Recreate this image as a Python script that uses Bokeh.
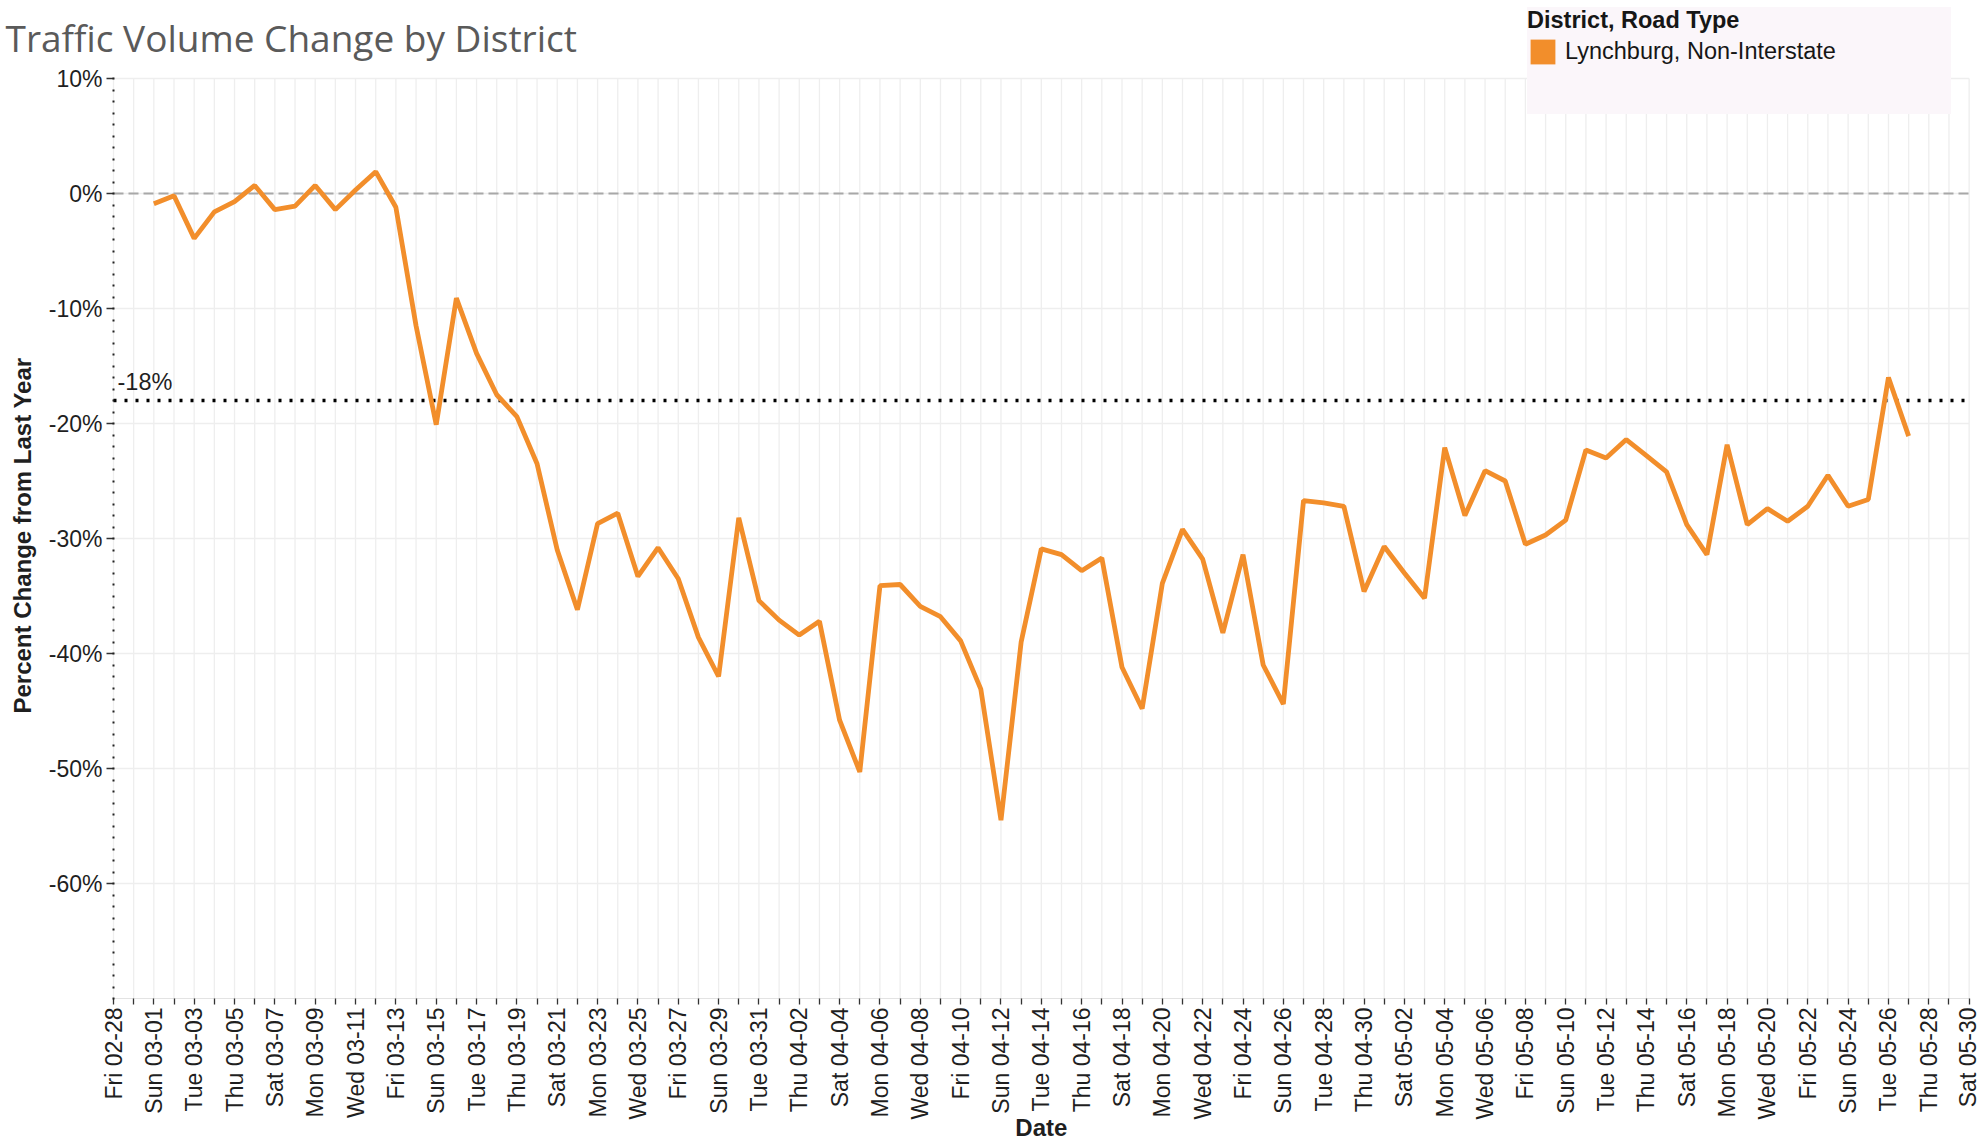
import math
import pandas as pd
from bokeh.plotting import figure
from bokeh.models import (FixedTicker, PrintfTickFormatter, Label, Legend,
                          LegendItem, Range1d)
from bokeh.embed import file_html
from bokeh.resources import INLINE

# ---------------- data ----------------
chart_title = "Traffic Volume Change by District"
y_title = "Percent Change from Last Year"
x_title = "Date"
axis_start = "2020-02-28"
axis_end = "2020-05-30"
series_start = "2020-03-01"
legend_title = "District, Road Type"
series_name = "Lynchburg, Non-Interstate"

pct_change = [
    # March 01 - March 31
    -0.9, -0.2, -3.9, -1.6, -0.7, 0.7, -1.4, -1.1, 0.7, -1.4,
    0.3, 1.9, -1.2, -11.5, -20.1, -9.1, -13.9, -17.5, -19.4, -23.5,
    -31.0, -36.2, -28.7, -27.8, -33.3, -30.8, -33.5, -38.6, -42.0, -28.2,
    -35.4,
    # April 01 - April 30
    -37.1, -38.4, -37.2, -45.8, -50.3, -34.1, -34.0, -35.9, -36.8, -38.9,
    -43.1, -54.5, -39.0, -30.9, -31.4, -32.8, -31.7, -41.2, -44.8, -33.9,
    -29.2, -31.8, -38.2, -31.4, -41.0, -44.4, -26.7, -26.9, -27.2, -34.6,
    # May 01 - May 27
    -30.7, -33.0, -35.2, -22.1, -28.0, -24.1, -25.0, -30.5, -29.7, -28.4,
    -22.3, -23.0, -21.4, -22.8, -24.2, -28.8, -31.4, -21.85, -28.8, -27.4,
    -28.5, -27.2, -24.5, -27.2, -26.6, -16.0, -21.1,
]
y_ticks = [-60, -50, -40, -30, -20, -10, 0, 10]
y_min, y_max = -70, 10
reference_value = -18

# derived
axis_dates = pd.date_range(axis_start, axis_end, freq="D")
tick_idx = list(range(len(axis_dates)))
x_min, x_max = tick_idx[0], tick_idx[-1]
tick_labels = {i: (d.strftime("%a %m-%d") if i % 2 == 0 else "")
               for i, d in enumerate(axis_dates)}
series_dates = pd.date_range(series_start, periods=len(pct_change), freq="D")
x_idx = [int((d - axis_dates[0]).days) for d in series_dates]

# ---------------- layout constants (pixels) ----------------
W, H = 1980, 1141
PLOT_LEFT_PX = 113.0      # pixel of first date
PX_PER_DAY = 20.17
ZERO_PX = 193.0           # pixel of 0%
PX_PER_PCT = 11.5

def px2x(px):
    return (px - PLOT_LEFT_PX) / PX_PER_DAY

def px2y(py):
    return (ZERO_PX - py) / PX_PER_PCT

ORANGE = "#f28e2b"
FONT = "Liberation Sans"
TXT = "#1f1f1f"
GRID = "#eeeeee"

p = figure(width=W, height=H, output_backend="svg", toolbar_location=None,
           x_range=Range1d(px2x(0), px2x(W)), y_range=Range1d(px2y(H), px2y(0)),
           min_border_left=0, min_border_right=0, min_border_top=0,
           min_border_bottom=0)
p.title.visible = False
p.outline_line_color = None
p.background_fill_color = "white"
p.border_fill_color = "white"
p.xgrid.visible = False
p.ygrid.visible = False

# gridlines restricted to the data area
p.segment(x0=tick_idx, y0=[y_min] * len(tick_idx), x1=tick_idx,
          y1=[y_max] * len(tick_idx), line_color=GRID, line_width=1.3)
p.segment(x0=[x_min] * len(y_ticks), y0=y_ticks, x1=[x_max] * len(y_ticks),
          y1=y_ticks, line_color=GRID, line_width=1.5)

# x axis (fixed at the bottom of the data area)
xa = p.xaxis[0]
xa.fixed_location = y_min
xa.bounds = (x_min, x_max)
xa.ticker = FixedTicker(ticks=tick_idx)
xa.major_label_overrides = tick_labels
xa.major_label_orientation = math.pi / 2
xa.major_label_text_font = FONT
xa.major_label_text_font_size = "23px"
xa.major_label_text_color = TXT
xa.major_label_standoff = 3
xa.major_tick_out = 6
xa.major_tick_in = 0
xa.major_tick_line_color = "#333333"
xa.major_tick_line_width = 1.3
xa.minor_tick_line_color = None
xa.axis_line_color = "#e3e3e3"

# y axis (fixed at the first date)
ya = p.yaxis[0]
ya.fixed_location = x_min
ya.bounds = (y_min, y_max)
ya.ticker = FixedTicker(ticks=y_ticks, minor_ticks=list(range(y_min, y_max + 1)))
ya.formatter = PrintfTickFormatter(format="%d%%")
ya.major_label_text_font = FONT
ya.major_label_text_font_size = "23px"
ya.major_label_text_color = TXT
ya.major_label_standoff = 4
ya.major_tick_out = 7
ya.major_tick_in = 0
ya.major_tick_line_color = "#333333"
ya.major_tick_line_width = 1.5
ya.minor_tick_out = 1
ya.minor_tick_in = 1
ya.minor_tick_line_width = 2.2
ya.minor_tick_line_color = "#222222"
ya.axis_line_color = None

# reference lines
p.segment(x0=[x_min], y0=[0], x1=[x_max], y1=[0], line_color="#a8a8a8",
          line_dash="10 5", line_width=2)
p.segment(x0=[x_min], y0=[reference_value], x1=[x_max], y1=[reference_value],
          line_color="black", line_dash="3 8", line_width=3.5)
p.add_layout(Label(x=x_min, y=reference_value, x_offset=4, y_offset=6,
                   text=f"{reference_value}%", text_baseline="bottom",
                   text_font=FONT, text_font_size="23.5px", text_color=TXT))

# series
p.line(x_idx, pct_change, line_color=ORANGE, line_width=4.8)

# titles
p.add_layout(Label(x=px2x(5), y=px2y(37), text=chart_title, text_baseline="middle",
                   text_font="Open Sans", text_font_size="37px", text_color="#5a5a5a"))
p.add_layout(Label(x=px2x(22), y=px2y(535), text=y_title, angle=math.pi / 2,
                   text_align="center", text_baseline="middle", text_font=FONT,
                   text_font_size="24px", text_font_style="bold", text_color=TXT))
p.add_layout(Label(x=(x_min + x_max) / 2, y=px2y(1127), text=x_title,
                   text_align="center", text_baseline="middle", text_font=FONT,
                   text_font_size="24px", text_font_style="bold", text_color=TXT))

# legend: zero-size square proxy at the series origin carries the swatch colour
swatch = p.quad(left=[x_idx[0]], right=[x_idx[0]], top=[pct_change[0]],
                bottom=[pct_change[0]], fill_color=ORANGE, line_color=None)
blank = p.quad(left=[x_idx[0]], right=[x_idx[0]], top=[pct_change[0]],
               bottom=[pct_change[0]], fill_alpha=0, line_alpha=0)
legend = Legend(items=[LegendItem(label=series_name, renderers=[swatch]),
                       LegendItem(label=" ", renderers=[blank])],
                location=(1527, H - 114), title=legend_title,
                title_text_font=FONT, title_text_font_style="bold",
                title_text_font_size="23.5px", title_text_color="#161616",
                label_text_font=FONT, label_text_font_size="23.5px",
                label_text_color="#161616",
                glyph_width=31, glyph_height=31, label_height=31,
                label_width=386, label_standoff=7, spacing=16,
                padding=3, margin=0, title_standoff=2,
                background_fill_color="#fbf6fa", background_fill_alpha=1,
                border_line_color=None)
p.add_layout(legend, "center")

open("out.html", "w").write(file_html(p, INLINE))
